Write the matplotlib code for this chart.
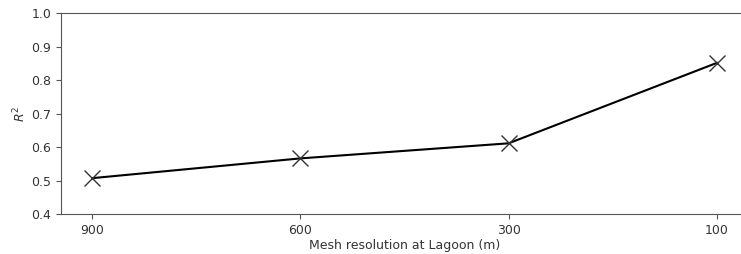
import matplotlib
matplotlib.use("Agg")
import matplotlib.pyplot as plt

resolutions = ["900", "600", "300", "100"]
r2_values = [0.507, 0.566, 0.611, 0.851]

fig = plt.figure(figsize=(7.41, 2.54), dpi=100)
ax = fig.add_axes([61/741, 1 - 214/254, (748-61)/741, (214-13)/254])
x = list(range(len(resolutions)))
ax.plot(x, r2_values, color="black", lw=1.5, zorder=2)
ax.plot(x, r2_values, ls="none", marker="x", ms=11, mew=1.0, color="#333333", zorder=3)
ax.set_xticks(x)
ax.set_xticklabels(resolutions)
ax.set_xlim(-0.15, 3.15)
ax.set_ylim(0.4, 1.0)
ax.set_yticks([0.4, 0.5, 0.6, 0.7, 0.8, 0.9, 1.0])
ax.set_xlabel("Mesh resolution at Lagoon (m)", fontsize=9, color="#333333", labelpad=1.5)
ax.set_ylabel("$R^2$", fontsize=9, color="#333333", labelpad=2.5)
ax.tick_params(labelsize=9, colors="#333333")
ax.tick_params(axis="both", color="#555555")
for s in ["top", "bottom", "left", "right"]:
    ax.spines[s].set_color("#555555")
fig.savefig("out.png", dpi=100)
